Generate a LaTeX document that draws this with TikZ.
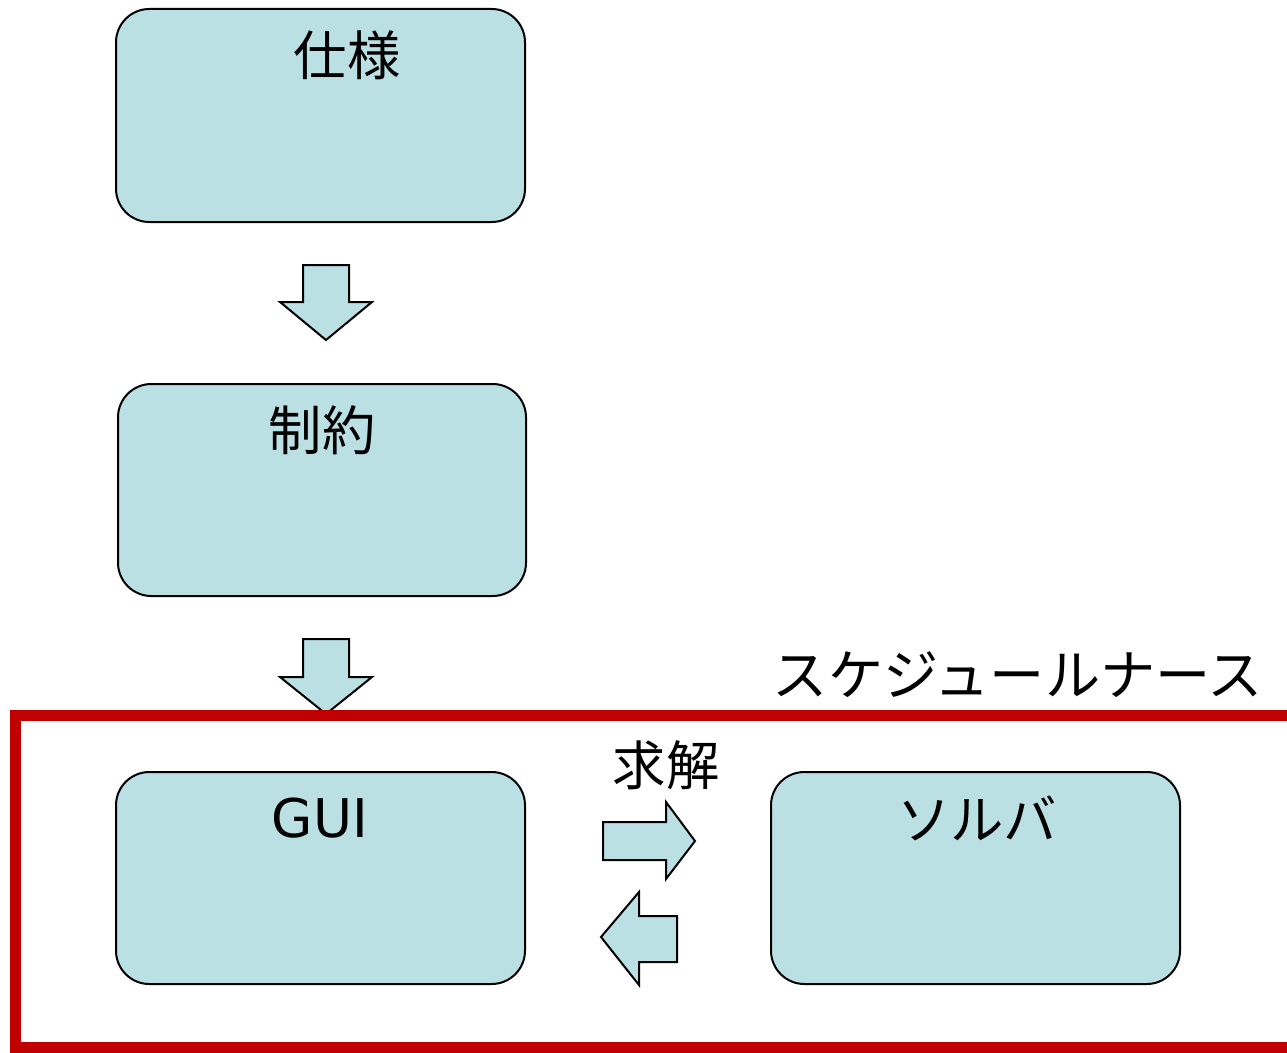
\documentclass[tikz,border=0pt]{standalone}
\usepackage{fontspec}
\newfontfamily\jpfont{Noto Sans CJK JP}
\newfontfamily\latinfont{DejaVu Sans}
\definecolor{boxfill}{RGB}{186,224,228}
\definecolor{framered}{RGB}{192,0,0}
\begin{document}
\begin{tikzpicture}[x=0.75pt,y=-0.75pt,
  roundbox/.style={draw=black,fill=boxfill,line width=1.5pt,rounded corners=25pt},
  blockarrow/.style={draw=black,fill=boxfill,line width=1.5pt,line join=miter},
  label/.style={inner sep=0pt,font=\jpfont\fontsize{40pt}{48pt}\selectfont}]
\useasboundingbox (0,0) rectangle (1287,1052);
\clip (0,0) rectangle (1287,1052);
% boxes
\draw[roundbox] (116,9) rectangle (525,222);
\draw[roundbox] (118,384) rectangle (526,596);
\draw[roundbox] (116,772) rectangle (525,984);
\draw[roundbox] (771,772) rectangle (1180,984);
% labels
\node[label] (spec) at (347,55) {仕様};
\node[label] (cons) at (322,430) {制約};
\node[label,font=\latinfont\fontsize{40pt}{48pt}\selectfont] (gui) at (320,818) {GUI};
\node[label] (solver) at (977,818) {ソルバ};
\node[label] (solve) at (666,765) {求解};
\node[label,font=\jpfont\fontsize{41.4pt}{48pt}\selectfont] (nurse) at (1018,675) {スケジュールナース};
% block arrows
\draw[blockarrow] (303,265) -- (349,265) -- (349,302) -- (372,302) -- (326,340) -- (280,302) -- (303,302) -- cycle;
\draw[blockarrow] (303,639) -- (349,639) -- (349,677) -- (372,677) -- (326,714) -- (280,677) -- (303,677) -- cycle;
\draw[blockarrow] (603,822) -- (666,822) -- (666,802) -- (695,841) -- (666,879) -- (666,860) -- (603,860) -- cycle;
\draw[blockarrow] (677,916) -- (639,916) -- (639,892) -- (601,937) -- (639,985) -- (639,962) -- (677,962) -- cycle;
% red frame
\draw[framered,line width=8.25pt] (15.5,715) rectangle (1310,1047.5);
\end{tikzpicture}
\end{document}
